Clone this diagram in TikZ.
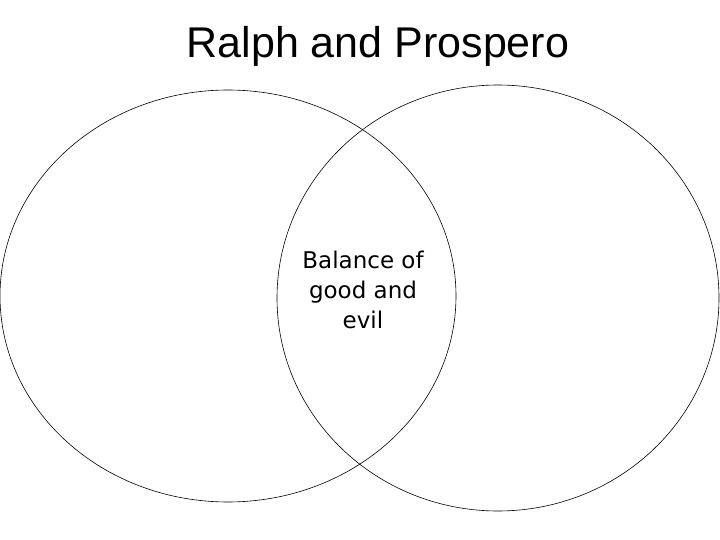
\documentclass[tikz,border=0pt]{standalone}
\usepackage{fontspec}
\setmainfont{Liberation Sans}
\newfontfamily\gothic{DejaVu Sans}
\begin{document}
\begin{tikzpicture}[x=1pt,y=-1pt,
  ring/.style={draw=black,line width=0.6pt}]
\useasboundingbox (0,0) rectangle (720,540);
\draw[ring] (228,296) ellipse [x radius=228, y radius=206];
\draw[ring] (498,298) ellipse [x radius=221, y radius=213];
\node[font=\fontsize{43}{48}\selectfont] (title) at (378,46) {Ralph and Prospero};
\node[align=center,font=\gothic\fontsize{23}{30}\selectfont] (mid) at (363,290) {Balance of\\good and\\evil};
\end{tikzpicture}
\end{document}
